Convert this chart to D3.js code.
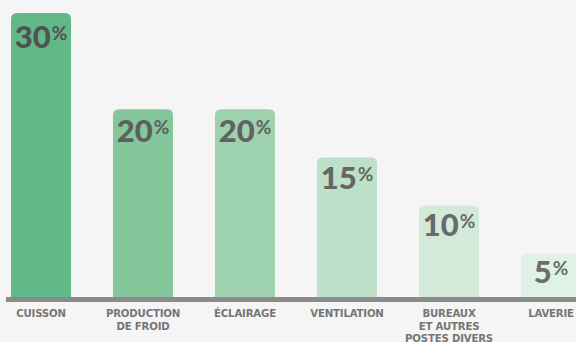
<!DOCTYPE html>
<html><head><meta charset="utf-8">
<script src="https://cdn.jsdelivr.net/npm/d3@7"></script>
<style>html,body{margin:0;padding:0;background:#f5f5f5;}svg{display:block;}</style>
</head><body>
<script>
const categories = [["CUISSON"],["PRODUCTION","DE FROID"],["ÉCLAIRAGE"],["VENTILATION"],["BUREAUX","ET AUTRES","POSTES DIVERS"],["LAVERIE"]];
const values = [30, 20, 20, 15, 10, 5];
const labels = ["30", "20", "20", "15", "10", "5"];

const barColors = ["#60b986","#84c79b","#9ed2ae","#bde0c8","#d3eadb","#e0f1e6"];
const labelColors = ["#525252","#5e5e5e","#616161","#666666","#6a6a6a","#6d6d6d"];

const W = 576, H = 342;
const svg = d3.select("body").append("svg").attr("width", W).attr("height", H);
svg.append("rect").attr("width", W).attr("height", H).attr("fill", "#f5f5f5");

const step = 102, bw = 60;
const x = d3.scaleLinear().domain([0, 1]).range([11, 11 + step]);
const y = d3.scaleLinear().domain([0.5, 30]).range([297, 13]);
const base = 297;

const r = 6;
function barPath(x0, y0, w, y1) {
  return `M${x0},${y1}V${y0 + r}Q${x0},${y0} ${x0 + r},${y0}H${x0 + w - r}Q${x0 + w},${y0} ${x0 + w},${y0 + r}V${y1}Z`;
}

svg.selectAll("path.bar").data(values).join("path")
  .attr("class", "bar")
  .attr("d", (d, i) => barPath(x(i), y(d), bw, base + 1))
  .attr("fill", (d, i) => barColors[i]);

// axis line
svg.append("rect").attr("x", 6).attr("y", base).attr("width", W).attr("height", 5).attr("fill", "#8b8b8b");

// value labels
const g = svg.selectAll("text.val").data(values).join("text")
  .attr("class", "val")
  .attr("x", (d, i) => x(i) + bw / 2)
  .attr("y", (d, i) => y(d) + [35, 33, 33, 32, 30, 29][i])
  .attr("text-anchor", "middle")
  .attr("font-family", "Lato, 'Open Sans', sans-serif")
  .attr("font-weight", 900)
  .attr("fill", (d, i) => labelColors[i]);
g.append("tspan").attr("font-size", 31).text((d, i) => labels[i]);
g.append("tspan").attr("font-size", 19).attr("font-weight", 700).attr("dy", -8).attr("dx", 1).text("%");

// category labels
const cat = svg.selectAll("text.cat").data(categories).join("text")
  .attr("class", "cat")
  .attr("x", (d, i) => x(i) + bw / 2)
  .attr("y", 317)
  .attr("text-anchor", "middle")
  .attr("font-family", "'DejaVu Sans', sans-serif")
  .attr("font-weight", 700)
  .attr("font-size", 10.2)
  .attr("letter-spacing", -0.2)
  .attr("fill", "#757575");
cat.selectAll("tspan").data(d => d).join("tspan")
  .attr("x", function () { return this.parentNode.getAttribute("x"); })
  .attr("dy", (d, j) => j === 0 ? 0 : 12.5)
  .text(d => d);
</script>
</body></html>
